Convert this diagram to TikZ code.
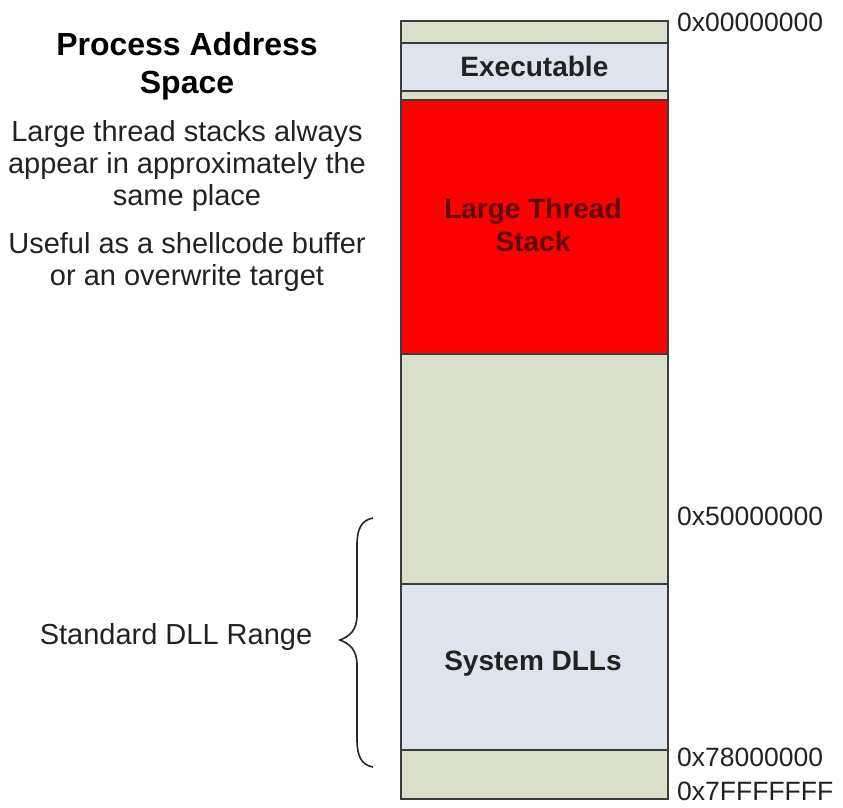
\documentclass[tikz,border=0pt]{standalone}
\usepackage{fontspec}
\setmainfont{Liberation Sans}
\definecolor{segGreen}{HTML}{D9DFCB}
\definecolor{segBlue}{HTML}{DEE4EE}
\definecolor{segRed}{HTML}{FF0000}
\definecolor{segLine}{HTML}{3C3C3C}
\definecolor{darkRedText}{HTML}{5A0808}
\definecolor{txt}{HTML}{222222}
\begin{document}
\begin{tikzpicture}[x=1pt,y=-1pt,
  seg/.style={draw=segLine, line width=1.8pt, minimum width=267pt, inner sep=0pt, anchor=north west},
  greenseg/.style={seg, fill=segGreen},
  blueseg/.style={seg, fill=segBlue},
  redseg/.style={seg, fill=segRed},
  boxtext/.style={font=\fontsize{28}{33}\selectfont\bfseries, text=txt, align=center},
  addr/.style={font=\fontsize{26.5}{30}\selectfont, text=txt, anchor=west, inner sep=0pt},
  body/.style={font=\fontsize{29}{32}\selectfont, text=txt, align=center, inner sep=0pt},
  title/.style={font=\fontsize{32}{38}\selectfont\bfseries, text=black, align=center, inner sep=0pt}
]
\useasboundingbox (0,0) rectangle (843,808);
% memory segments
\node[greenseg, minimum height=22pt] (g1) at (400,20) {};
\node[blueseg, minimum height=48pt] (exe) at (400,42) {};
\node[greenseg, minimum height=9pt] (g2) at (400,90) {};
\node[redseg, minimum height=254pt] (stack) at (400,99) {};
\node[greenseg, minimum height=230pt] (g3) at (400,353) {};
\node[blueseg, minimum height=166pt] (dlls) at (400,583) {};
\node[greenseg, minimum height=49pt] (g4) at (400,749) {};
% box labels
\node[boxtext] (exet) at (exe.center) {Executable};
\node[boxtext, text=darkRedText] (stackt) at (533,225) {Large Thread\\Stack};
\node[boxtext] (dllt) at (533,664) {System DLLs};
% addresses
\node[addr] (a0) at (677,22) {0x00000000};
\node[addr] (a5) at (677,516) {0x50000000};
\node[addr] (a78) at (677,757) {0x78000000};
\node[addr] (a7f) at (677,791) {0x7FFFFFFF};
% left texts
\node[title] (ttl) at (187,66) {Process Address\\Space};
\node[body] (b1) at (187,166) {Large thread stacks always\\appear in approximately the\\same place};
\node[body] (b2) at (187,262) {Useful as a shellcode buffer\\or an overwrite target};
\node[body, anchor=center] (range) at (176,637) {Standard DLL Range};
% brace
\draw[line width=1.6pt, color=black!85] (373,518) .. controls (362,520) and (357,528) .. (357,545)
  -- (357,615) .. controls (357,630) and (350,636) .. (340,640)
  .. controls (350,644) and (357,650) .. (357,665)
  -- (357,740) .. controls (357,757) and (362,765) .. (373,767);
\end{tikzpicture}
\end{document}
